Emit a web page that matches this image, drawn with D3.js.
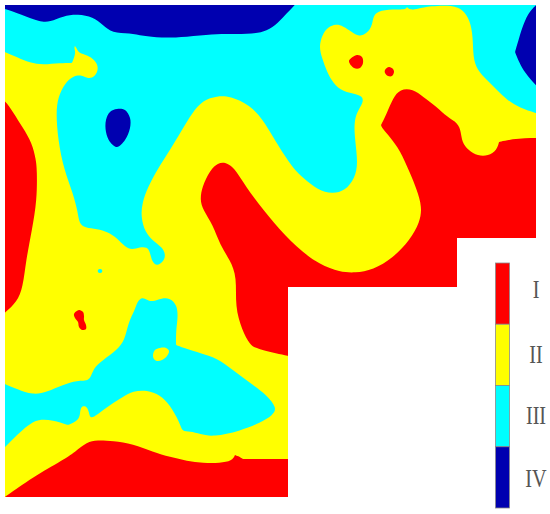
<!DOCTYPE html>
<html>
<head>
<meta charset="utf-8">
<script src="https://cdn.jsdelivr.net/npm/d3@7"></script>
<style>
html, body { margin: 0; padding: 0; background: #fff; }
svg { display: block; }
</style>
</head>
<body>
<div class="chart"></div>
<script>
// class boundaries, in map units
// a repeated point keeps a corner sharp under the basis curve
var outline = [[5,5],[536,5],[536,238],[457,238],[457,287],[288,287],[288,497],[5,497]];

var cyanUpper = [[-5,-5],[-5,-5],[-5,-5],[545,-5],[545,-5],[545,-5],[545,116],[545,116],[536,113],[520,108],[507,100],[497,90],[487,80],[477,70],[473,57],[473,37],[470,20],[463,10],[453,5],[430,6],[417,9],[410,10],[407,7],[407,7],[405,10],[393,9],[377,11],[373,17],[372,27],[365,35],[358,36],[352,32],[343,26],[336,24],[328,27],[322,35],[319,47],[322,58],[327,72],[333,83],[343,92],[357,94],[363,97],[363,103],[357,112],[354,123],[355,140],[358,163],[355,178],[345,191],[332,194],[318,190],[303,178],[291,166],[273,137],[263,120],[250,105],[230,96],[217,96],[203,100],[192,113],[182,130],[170,150],[157,170],[148,187],[142,203],[141,217],[145,232],[153,241],[162,247],[166,255],[163,262],[157,266],[152,262],[150,252],[147,247],[140,247],[132,250],[125,247],[117,238],[108,232],[97,229],[85,228],[79,223],[78,213],[73,193],[64,170],[58,140],[56,113],[58,97],[65,83],[73,76],[82,75],[88,79],[95,77],[99,68],[95,60],[87,55],[79,53],[77,49],[75,46],[75,46],[75,46],[74,48],[76,53],[72,63],[72,63],[60,63],[43,65],[30,63],[17,57],[5,52],[-5,48],[-5,48]];
var cyanLower = [[142,297],[147,300],[152,302],[162,298],[170,298],[177,305],[178,317],[176,330],[176,345],[176,345],[187,349],[200,353],[217,358],[233,370],[250,383],[267,395],[277,408],[273,415],[260,423],[240,431],[213,437],[200,434],[190,431],[182,432],[180,423],[170,405],[160,395],[147,390],[133,391],[123,397],[110,405],[97,415],[90,419],[89,412],[87,407],[84,406],[81,407],[80,413],[79,420],[68,425],[68,425],[53,420],[38,419],[28,425],[17,435],[5,447],[-5,457],[-5,457],[-5,457],[-5,380],[-5,380],[-5,380],[5,384],[17,389],[33,395],[47,392],[63,385],[77,380],[90,382],[93,368],[103,360],[117,350],[125,340],[128,323],[135,310],[137,302]];
var cyanDot = [[100,269],[102,270],[102,272],[100,273],[98,272],[98,270]];

var blueTop = [[-5,6],[-5,6],[5,9],[20,14],[40,22],[50,22],[63,16],[78,14],[93,17],[103,25],[112,33],[130,33],[143,36],[160,38],[187,37],[213,34],[230,34],[253,34],[267,31],[278,23],[287,13],[295,5],[303,-5],[303,-5],[303,-5],[-5,-10],[-5,-10],[-5,-10]];
var blueRight = [[536,5],[528,13],[522,28],[518,42],[515,52],[515,52],[519,62],[525,73],[536,86],[548,96],[548,96],[548,96],[548,-5],[548,-5],[548,-5]];
var blueBlob = [[117,109],[125,110],[130,118],[130,128],[125,140],[117,147],[110,142],[106,132],[106,120],[110,112]];

var redLeft = [[-5,95],[-5,95],[-5,95],[5,100],[13,112],[23,128],[32,143],[36,160],[37,170],[37,200],[32,230],[26,260],[23,287],[17,302],[5,313],[-5,320],[-5,320],[-5,320]];
var redCentre = [[400,89],[413,89],[423,97],[437,107],[447,117],[458,123],[461,132],[462,142],[468,150],[478,156],[488,156],[497,150],[499,142],[499,142],[513,139],[525,138],[536,138],[548,138],[548,138],[548,138],[548,300],[548,300],[548,300],[300,300],[300,300],[300,300],[300,358],[300,358],[300,358],[288,356],[257,349],[250,345],[242,330],[235,307],[237,277],[230,260],[220,245],[213,225],[203,210],[200,200],[202,187],[210,170],[218,163],[225,162],[233,167],[240,177],[253,197],[273,222],[297,248],[320,265],[340,272],[355,273],[373,270],[393,258],[410,240],[420,222],[422,207],[417,190],[410,173],[400,150],[390,137],[382,128],[381,125],[381,125],[387,113],[393,98]];
var redBottom = [[-5,504],[-5,504],[-5,504],[5,497],[33,477],[63,460],[75,452],[87,442],[97,440],[113,441],[133,444],[153,452],[170,457],[187,461],[203,463],[220,463],[232,461],[235,455],[235,455],[238,456],[243,459],[243,459],[288,459],[300,459],[300,459],[300,459],[300,510],[300,510],[300,510],[-5,510],[-5,510],[-5,510]];
var redSpotA = [[357,55],[362,57],[363,63],[360,68],[354,68],[349,61]];
var redSpotB = [[389,67],[393,69],[394,72],[392,76],[388,76],[385,73],[385,70]];
var redSpotC = [[79,310],[83,312],[84,316],[84,320],[86,325],[86,329],[82,330],[79,327],[78,322],[75,318],[74,314]];

var yellowIsland = [[153,355],[155,350],[160,348],[166,348],[169,351],[167,356],[162,360],[157,361],[154,359]];

var classLabels = ["I", "II", "III", "IV"];
var classColors = ["#ff0000", "#ffff00", "#00ffff", "#0000b0"];

function draw() {
    var width = 550;
    var height = 514;

    var x = d3.scaleLinear().domain([0, 550]).range([0, width]);
    var y = d3.scaleLinear().domain([0, 514]).range([0, height]);

    var svg = d3.select(".chart").append("svg")
        .attr("width", width)
        .attr("height", height);

    function pathWith(curve) {
        return d3.line()
            .x(function (d) { return x(d[0]); })
            .y(function (d) { return y(d[1]); })
            .curve(curve);
    }

    var outlinePath = pathWith(d3.curveLinearClosed);
    var basinPath = pathWith(d3.curveBasisClosed);
    var spotPath = pathWith(d3.curveCatmullRomClosed.alpha(0.5));

    svg.append("clipPath")
        .attr("id", "map-clip")
        .append("path")
        .attr("d", outlinePath(outline));

    var map = svg.append("g").attr("clip-path", "url(#map-clip)");

    // yellow is the ground, everything else is painted over it
    map.append("path")
        .attr("d", outlinePath(outline))
        .attr("fill", classColors[1]);

    var layers = [
        { shapes: [cyanUpper, cyanLower], line: basinPath, color: classColors[2] },
        { shapes: [cyanDot], line: spotPath, color: classColors[2] },
        { shapes: [blueTop, blueRight], line: basinPath, color: classColors[3] },
        { shapes: [blueBlob], line: spotPath, color: classColors[3] },
        { shapes: [yellowIsland], line: spotPath, color: classColors[1] },
        { shapes: [redLeft, redCentre, redBottom], line: basinPath, color: classColors[0] },
        { shapes: [redSpotA, redSpotB, redSpotC], line: spotPath, color: classColors[0] }
    ];

    layers.forEach(function (layer) {
        map.selectAll(null)
            .data(layer.shapes)
            .enter().append("path")
            .attr("d", layer.line)
            .attr("fill", layer.color);
    });

    // legend
    var legendY = d3.scaleBand()
        .domain(classLabels)
        .range([263, 508]);

    var legend = svg.append("g");

    legend.selectAll("rect")
        .data(classLabels)
        .enter().append("rect")
        .attr("x", 495.5)
        .attr("y", function (d) { return legendY(d); })
        .attr("width", 14)
        .attr("height", legendY.bandwidth())
        .attr("fill", function (d, i) { return classColors[i]; })
        .attr("stroke", "#8a8a8a")
        .attr("stroke-width", 0.8);

    // labels are not quite centred on their bands in the original
    var labelShift = [4, 8, 8, 10];

    legend.selectAll("text")
        .data(classLabels)
        .enter().append("text")
        .attr("transform", function (d, i) {
            return "translate(536," + (legendY(d) + legendY.bandwidth() / 2 + labelShift[i]) + ") scale(0.92,1.12)";
        })
        .attr("text-anchor", "middle")
        .style("font-family", "'Liberation Serif', serif")
        .style("font-size", "22px")
        .style("fill", "#555")
        .text(function (d) { return d; });
}

draw();
</script>
</body>
</html>
